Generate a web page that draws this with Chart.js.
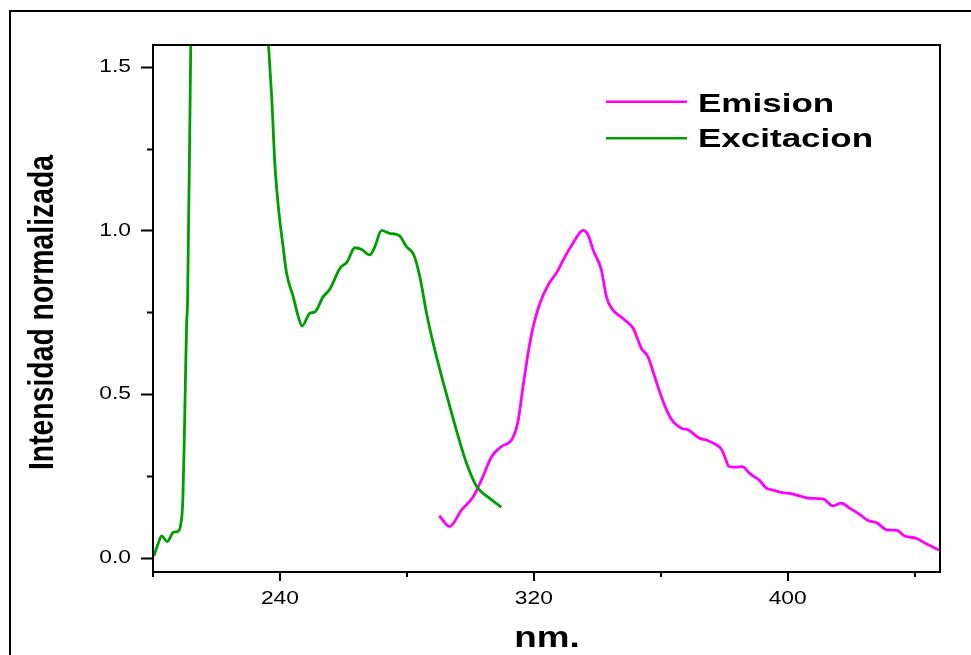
<!DOCTYPE html>
<html>
<head>
<meta charset="utf-8">
<script src="https://cdn.jsdelivr.net/npm/chart.js@4"></script>
<style>
  html, body { margin: 0; padding: 0; background: #fff; }
  canvas { display: block; }
</style>
</head>
<body>
<canvas id="grafico" width="971" height="655"></canvas>
<script>
// Espectro de excitacion (nm / intensidad normalizada)
const excitacionNm = [200.3, 201.5, 202.7, 204.5, 206.4, 208.0, 208.7, 209.4, 209.9, 210.3, 210.6, 210.9, 211.9, 213.0,
  218, 226, 233, 237.4, 238.4, 239.5, 241.0, 242.1, 244.2, 245.8, 247.0, 249.4, 251.0, 253.6, 255.7, 258.9,
  261.2, 263.6, 265.7, 268.3, 269.9, 272.0, 274.6, 277.6, 279.9, 282.2, 284.1, 286.2, 288.3, 291.4, 294.1,
  296.2, 298.8, 302.0, 306.1, 309.8];
const excitacionInt = [0.006, 0.04, 0.067, 0.05, 0.078, 0.082, 0.10, 0.177, 0.38, 0.584, 0.717, 0.787, 1.566, 2.42,
  3.0, 2.9, 2.1, 1.408, 1.204, 1.072, 0.95, 0.869, 0.797, 0.736, 0.708, 0.747, 0.751, 0.797, 0.82, 0.884,
  0.904, 0.947, 0.942, 0.925, 0.950, 1.0, 0.991, 0.984, 0.950, 0.925, 0.858, 0.747, 0.655, 0.538, 0.442,
  0.37, 0.289, 0.218, 0.182, 0.155];

// Espectro de emision
const emisionNm = [290.2, 293.5, 297.2, 300.9, 303.5, 306.7, 309.8, 313.3, 315.1, 316.6, 318.2, 319.8, 321.9, 324.5,
  327.2, 329.8, 332.9, 335.5, 337.1, 338.7, 341.3, 342.9, 344.5, 348.1, 351.3, 353.9, 356.0, 358.1, 360.2,
  362.3, 363.9, 366.5, 368.6, 372.3, 374.4, 377.0, 379.1, 380.2, 381.5, 383.3, 385.7, 388.0, 391.2, 393.3,
  395.4, 398.5, 400.6, 403.8, 406.9, 411.1, 414.3, 416.9, 419.5, 422.7, 425.3, 427.9, 431.6, 434.2, 436.9,
  440.5, 443.7, 447.7];
const emisionInt = [0.129, 0.096, 0.146, 0.187, 0.238, 0.309, 0.34, 0.365, 0.421, 0.523, 0.625, 0.706, 0.777, 0.833,
  0.871, 0.919, 0.97, 1.0, 0.986, 0.94, 0.879, 0.797, 0.762, 0.731, 0.701, 0.640, 0.614, 0.553, 0.492,
  0.442, 0.416, 0.396, 0.391, 0.365, 0.36, 0.348, 0.332, 0.309, 0.279, 0.277, 0.279, 0.258, 0.236, 0.213,
  0.207, 0.199, 0.197, 0.189, 0.182, 0.18, 0.159, 0.167, 0.152, 0.133, 0.114, 0.108, 0.085, 0.085, 0.067,
  0.06, 0.043, 0.024];

// Marcas de los ejes
const xTicksMayores = [240, 320, 400];
const xTicksMenores = [200, 280, 360, 440];
const yTicksMayores = [0, 0.5, 1.0, 1.5];
const yEtiquetas = ["0.0", "0.5", "1.0", "1.5"];
const yTicksMenores = [0.25, 0.75, 1.25];

const nombresSeries = ["Emision", "Excitacion"];
const coloresSeries = ["#ff00ff", "#009f00"];

const FUENTE = '"Liberation Sans", Arial, sans-serif';

function aPuntos(xs, ys) {
  return xs.map((x, i) => ({ x: x, y: ys[i] }));
}

// texto con estiramiento horizontal
function textoEstirado(ctx, txt, px, py, sx, align) {
  ctx.save();
  ctx.translate(px, py);
  ctx.scale(sx, 1);
  ctx.textAlign = align;
  ctx.fillText(txt, 0, 0);
  ctx.restore();
}

const dibujoEjes = {
  id: "dibujoEjes",
  afterDraw(chart) {
    const { ctx, chartArea: a, scales: { x, y } } = chart;
    ctx.save();
    ctx.strokeStyle = "#000";
    ctx.fillStyle = "#000";

    // marco exterior
    ctx.lineWidth = 2;
    ctx.strokeRect(10, 11, 980, 700);

    // marco del area del grafico
    ctx.strokeRect(a.left, a.top, a.right - a.left, a.bottom - a.top);

    // marcas eje Y
    ctx.lineWidth = 2;
    ctx.beginPath();
    yTicksMayores.forEach((v) => {
      const py = Math.round(y.getPixelForValue(v)) + 0.5;
      ctx.moveTo(a.left - 12, py);
      ctx.lineTo(a.left, py);
    });
    yTicksMenores.forEach((v) => {
      const py = Math.round(y.getPixelForValue(v)) + 0.5;
      ctx.moveTo(a.left - 6, py);
      ctx.lineTo(a.left, py);
    });
    // marcas eje X
    xTicksMayores.forEach((v) => {
      const px = Math.round(x.getPixelForValue(v));
      ctx.moveTo(px, a.bottom);
      ctx.lineTo(px, a.bottom + 9);
    });
    xTicksMenores.forEach((v) => {
      const px = Math.round(x.getPixelForValue(v));
      ctx.moveTo(px, a.bottom);
      ctx.lineTo(px, a.bottom + 5);
    });
    ctx.stroke();

    // etiquetas
    ctx.font = "19px " + FUENTE;
    ctx.textBaseline = "middle";
    yTicksMayores.forEach((v, i) => {
      textoEstirado(ctx, yEtiquetas[i], 131, y.getPixelForValue(v), 1.2, "right");
    });
    ctx.textBaseline = "alphabetic";
    xTicksMayores.forEach((v) => {
      textoEstirado(ctx, String(v), x.getPixelForValue(v), 604, 1.2, "center");
    });

    // titulos de los ejes
    ctx.font = "bold 29px " + FUENTE;
    textoEstirado(ctx, "nm.", 547, 647, 1.27, "center");

    ctx.save();
    ctx.translate(53, 312.5);
    ctx.rotate(-Math.PI / 2);
    ctx.scale(0.81, 1);
    ctx.font = "bold 35px " + FUENTE;
    ctx.textAlign = "center";
    ctx.fillText("Intensidad normalizada", 0, 0);
    ctx.restore();

    // leyenda
    const lineasY = [101.7, 138.3];
    const textosY = [112, 147];
    ctx.font = "bold 25px " + FUENTE;
    nombresSeries.forEach((nombre, i) => {
      ctx.strokeStyle = coloresSeries[i];
      ctx.lineWidth = 2.5;
      ctx.beginPath();
      ctx.moveTo(606, lineasY[i]);
      ctx.lineTo(687, lineasY[i]);
      ctx.stroke();
      ctx.fillStyle = "#000";
      textoEstirado(ctx, nombre, 698, textosY[i], 1.4, "left");
    });

    ctx.restore();
  }
};

const ctx = document.getElementById("grafico").getContext("2d");
const myChart = new Chart(ctx, {
  type: "line",
  data: {
    datasets: [
      {
        label: nombresSeries[1],
        data: aPuntos(excitacionNm, excitacionInt),
        borderColor: coloresSeries[1],
        borderWidth: 2.8,
        pointRadius: 0,
        fill: false,
        tension: 0.4,
        cubicInterpolationMode: "monotone",
      },
      {
        label: nombresSeries[0],
        data: aPuntos(emisionNm, emisionInt),
        borderColor: coloresSeries[0],
        borderWidth: 2.8,
        pointRadius: 0,
        fill: false,
        tension: 0.4,
        cubicInterpolationMode: "monotone",
      },
    ],
  },
  options: {
    responsive: false,
    animation: false,
    devicePixelRatio: 1,
    events: [],
    layout: { padding: { left: 153, top: 45, right: 31, bottom: 83 } },
    plugins: { legend: { display: false }, tooltip: { enabled: false } },
    scales: {
      x: {
        type: "linear",
        min: 200,
        max: 448,
        grid: { display: false },
        border: { display: false },
        ticks: { display: false },
        afterFit: (s) => { s.height = 0; },
      },
      y: {
        min: -0.043,
        max: 1.566,
        grid: { display: false },
        border: { display: false },
        ticks: { display: false },
        afterFit: (s) => { s.width = 0; },
      },
    },
  },
  plugins: [dibujoEjes],
});
</script>
</body>
</html>
